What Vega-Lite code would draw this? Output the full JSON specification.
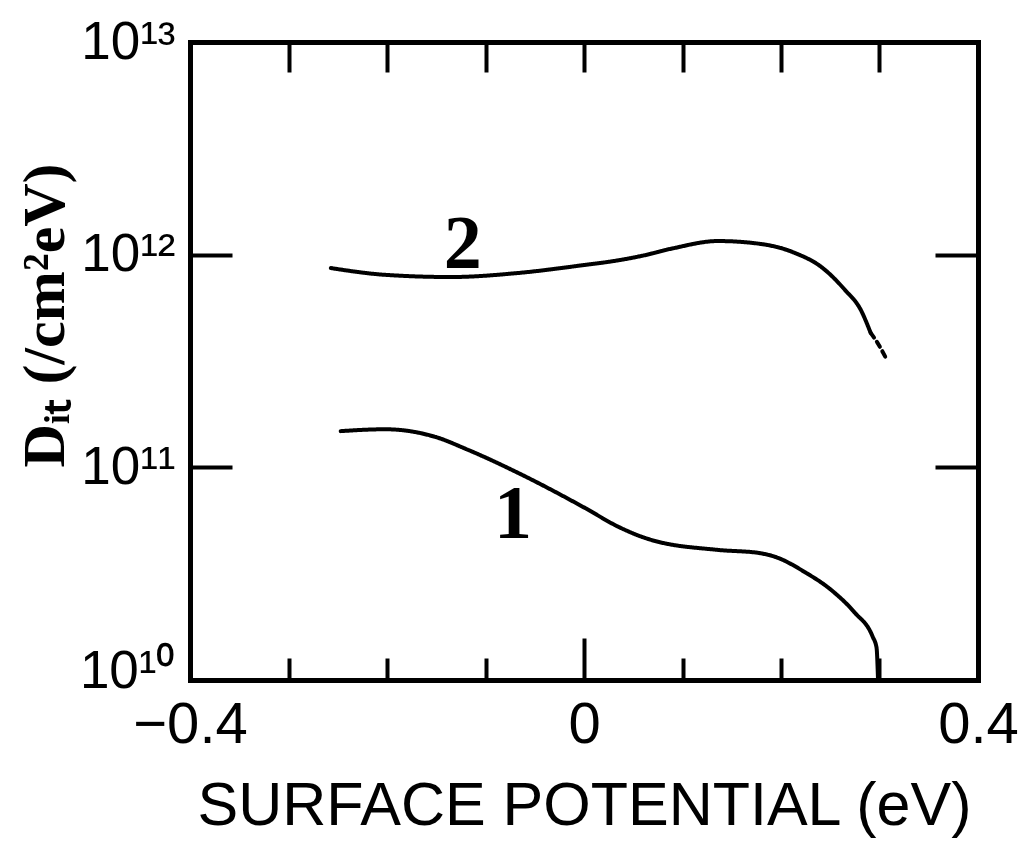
{
  "$schema": "https://vega.github.io/schema/vega-lite/v6.json",
  "width": 788,
  "height": 638,
  "autosize": {"type": "none"},
  "padding": {"left": 190, "top": 42, "right": 51, "bottom": 162},
  "background": "white",
  "config": {
    "view": {"stroke": null},
    "axis": {"domainColor": "black", "tickColor": "black", "labelColor": "black", "titleColor": "black", "grid": false, "domainWidth": 5, "tickWidth": 4, "domainCap": "square"}
  },
  "datasets": {
    "curves": [
      {"seg": "2", "style": "solid", "V": -0.257, "D": 8.65e11},
      {"seg": "2", "style": "solid", "V": -0.202, "D": 8.04e11},
      {"seg": "2", "style": "solid", "V": -0.135, "D": 7.85e11},
      {"seg": "2", "style": "solid", "V": -0.067, "D": 8.2e11},
      {"seg": "2", "style": "solid", "V": 0.001, "D": 8.95e11},
      {"seg": "2", "style": "solid", "V": 0.03, "D": 9.33e11},
      {"seg": "2", "style": "solid", "V": 0.06, "D": 9.9e11},
      {"seg": "2", "style": "solid", "V": 0.09, "D": 1.07e12},
      {"seg": "2", "style": "solid", "V": 0.136, "D": 1.159e12},
      {"seg": "2", "style": "solid", "V": 0.18, "D": 1.122e12},
      {"seg": "2", "style": "solid", "V": 0.214, "D": 1.019e12},
      {"seg": "2", "style": "solid", "V": 0.241, "D": 8.75e11},
      {"seg": "2", "style": "solid", "V": 0.265, "D": 6.82e11},
      {"seg": "2", "style": "solid", "V": 0.281, "D": 5.5e11},
      {"seg": "2", "style": "solid", "V": 0.291, "D": 4.29e11},
      {"seg": "2d", "style": "dashed", "V": 0.291, "D": 4.29e11},
      {"seg": "2d", "style": "dashed", "V": 0.298, "D": 3.85e11},
      {"seg": "2d", "style": "dashed", "V": 0.306, "D": 3.3e11},
      {"seg": "1", "style": "solid", "V": -0.247, "D": 1.48e11},
      {"seg": "1", "style": "solid", "V": -0.202, "D": 1.51e11},
      {"seg": "1", "style": "solid", "V": -0.151, "D": 1.39e11},
      {"seg": "1", "style": "solid", "V": -0.118, "D": 1.21e11},
      {"seg": "1", "style": "solid", "V": -0.067, "D": 9.42e10},
      {"seg": "1", "style": "solid", "V": 0.001, "D": 6.44e10},
      {"seg": "1", "style": "solid", "V": 0.035, "D": 5.25e10},
      {"seg": "1", "style": "solid", "V": 0.068, "D": 4.56e10},
      {"seg": "1", "style": "solid", "V": 0.136, "D": 4.09e10},
      {"seg": "1", "style": "solid", "V": 0.177, "D": 3.96e10},
      {"seg": "1", "style": "solid", "V": 0.197, "D": 3.75e10},
      {"seg": "1", "style": "solid", "V": 0.224, "D": 3.22e10},
      {"seg": "1", "style": "solid", "V": 0.251, "D": 2.65e10},
      {"seg": "1", "style": "solid", "V": 0.275, "D": 2.07e10},
      {"seg": "1", "style": "solid", "V": 0.293, "D": 1.6e10},
      {"seg": "1", "style": "solid", "V": 0.297, "D": 1.42e10},
      {"seg": "1", "style": "solid", "V": 0.2985, "D": 1.0e10}
    ],
    "labels": [
      {"label": "2", "V": -0.123, "D": 1.11e12},
      {"label": "1", "V": -0.072, "D": 5.97e10}
    ]
  },
  "layer": [
    {
      "data": {"name": "curves"},
      "mark": {"type": "line", "color": "black", "strokeWidth": 4, "interpolate": "monotone", "strokeCap": "round"},
      "encoding": {
        "x": {
          "field": "V", "type": "quantitative",
          "scale": {"domain": [-0.4, 0.4], "nice": false, "zero": false},
          "axis": {
            "orient": "bottom",
            "values": [-0.4, -0.3, -0.2, -0.1, 0, 0.1, 0.2, 0.3, 0.4],
            "labelExpr": "abs(datum.value + 0.4) < 1e-6 ? '−0.4' : abs(datum.value) < 1e-6 ? '0' : abs(datum.value - 0.4) < 1e-6 ? '0.4' : ''",
            "tickSize": {"condition": {"test": "abs(datum.value) < 1e-6", "value": -42}, "value": -22},
            "labelPadding": {"condition": {"test": "abs(datum.value) < 1e-6", "value": 58}, "value": 38},
            "labelFont": "Liberation Sans",
            "labelFontSize": 58,
            "labelFlush": false,
            "labelOverlap": false,
            "title": "SURFACE POTENTIAL (eV)",
            "titleFont": "Liberation Sans",
            "titleFontSize": 61,
            "titleFontWeight": "normal",
            "titlePadding": 22
          }
        },
        "y": {
          "field": "D", "type": "quantitative",
          "scale": {"type": "log", "domain": [1e10, 1e13], "nice": false},
          "axis": {
            "orient": "left",
            "values": [1e10, 1e11, 1e12, 1e13],
            "labelExpr": "datum.value > 5e12 ? '10¹³' : datum.value > 5e11 ? '10¹²' : datum.value > 5e10 ? '10¹¹' : '10¹⁰'",
            "labelOffset": {"condition": {"test": "datum.value < 5e10", "value": -9}, "value": 0},
            "tickSize": -42,
            "labelPadding": 57,
            "labelFont": "Liberation Sans",
            "labelFontSize": 53,
            "labelFlush": false,
            "labelOverlap": false,
            "title": "Dᵢₜ (/cm²eV)",
            "titleFont": "Liberation Serif",
            "titleFontWeight": "bold",
            "titleFontSize": 60,
            "titleX": -145,
            "titleY": 273,
            "titleBaseline": "middle",
            "titleAngle": -90
          }
        },
        "detail": {"field": "seg"},
        "strokeDash": {
          "field": "style", "type": "nominal",
          "scale": {"domain": ["solid", "dashed"], "range": [[1, 0], [6, 5]]},
          "legend": null
        }
      }
    },
    {
      "data": {"name": "labels"},
      "mark": {"type": "text", "font": "Liberation Serif", "fontWeight": "bold", "fontSize": 76, "color": "black", "baseline": "middle", "align": "center"},
      "encoding": {
        "x": {
          "field": "V", "type": "quantitative",
          "scale": {"domain": [-0.4, 0.4], "nice": false, "zero": false},
          "axis": {"orient": "top", "values": [-0.3, -0.2, -0.1, 0, 0.1, 0.2, 0.3], "labels": false, "tickSize": -30, "title": null}
        },
        "y": {
          "field": "D", "type": "quantitative",
          "scale": {"type": "log", "domain": [1e10, 1e13], "nice": false},
          "axis": {"orient": "right", "values": [1e11, 1e12], "labels": false, "tickSize": -43, "title": null}
        },
        "text": {"field": "label"}
      }
    }
  ],
  "resolve": {"axis": {"x": "independent", "y": "independent"}}
}
